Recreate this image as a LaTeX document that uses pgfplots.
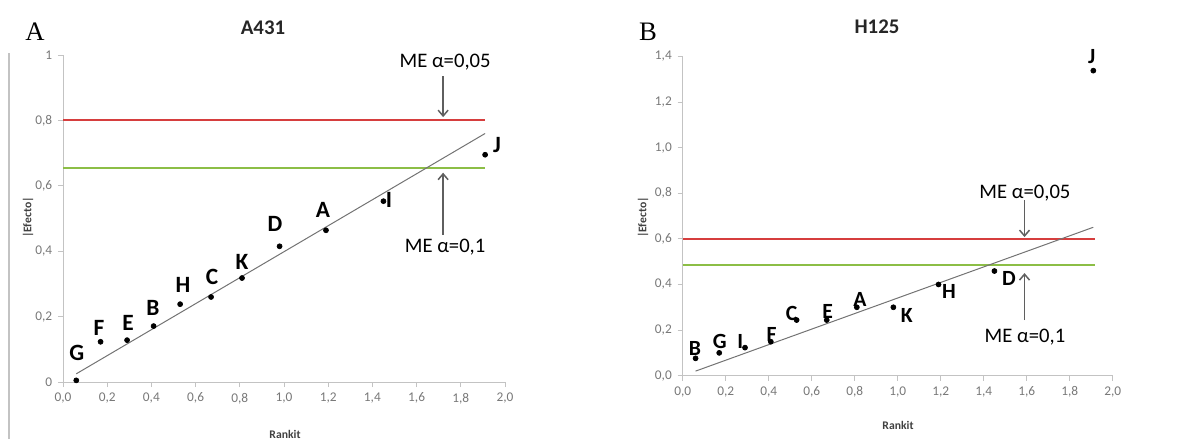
\documentclass[border=0pt]{standalone}
\usepackage{pgfplots}
\pgfplotsset{compat=1.18}
\usepackage{fontspec}
\setmainfont{Carlito}
\newfontfamily\serifA{Liberation Serif}
\usetikzlibrary{arrows.meta}
\definecolor{meRed}{RGB}{214,62,62}
\definecolor{meGreen}{RGB}{140,190,70}
\definecolor{tickgray}{RGB}{120,120,120}
\definecolor{axgray}{RGB}{195,195,195}
\definecolor{arrgray}{RGB}{95,95,95}
\definecolor{fitgray}{RGB}{115,115,115}

\pgfplotstableread{
x y
0.06 0.005
0.17 0.123
0.29 0.128
0.41 0.171
0.53 0.238
0.67 0.260
0.81 0.318
0.98 0.415
1.19 0.464
1.45 0.553
1.91 0.695
}\dataA
\pgfplotstableread{
x y
0.06 0.076
0.17 0.100
0.29 0.123
0.41 0.149
0.53 0.244
0.67 0.244
0.81 0.300
0.98 0.300
1.19 0.400
1.45 0.459
1.91 1.338
}\dataB

\pgfplotsset{
  myaxis/.style={
    scale only axis,
    anchor=origin,
    axis x line=bottom, axis y line=left,
    axis line style={axgray, line width=0.6pt, -},
    tick style={axgray, line width=0.6pt},
    major tick length=3pt,
    tick align=outside,
    xmin=0, xmax=2, xtick={0,0.2,...,2.0},
    xticklabels={{0,0},{0,2},{0,4},{0,6},{0,8},{1,0},{1,2},{1,4},{1,6},{1,8},{2,0}},
    ticklabel style={font=\fontsize{8}{9}\selectfont, text=tickgray},
    clip=false,
  },
}
\tikzset{
  ptlabA/.style={font=\fontsize{14}{16}\selectfont\bfseries, text=black},
  ptlab/.style={font=\fontsize{13}{15}\selectfont\bfseries, text=black},
  melab/.style={font=\fontsize{12.4}{14}\selectfont, text=black},
  mearr/.style={arrgray, line width=0.9pt, -{Straight Barb[length=3.5pt,width=6pt]}},
}

\begin{document}
\begin{tikzpicture}
\useasboundingbox (0,0) rectangle (717.6pt,263.4pt);
% left border line of panel A
\draw[axgray, line width=0.8pt] (5.4pt,0) -- (5.4pt,231.6pt);

% ---------------- Panel A ----------------
\begin{axis}[myaxis, at={(37.8pt,34.2pt)}, width=265.2pt, height=196.2pt,
  ymin=0, ymax=1, ytick={0,0.2,...,1.0},
  yticklabels={0,{0,2},{0,4},{0,6},{0,8},1}]
\addplot[meRed, line width=1.3pt] coordinates {(0,0.80) (1.91,0.80)};
\addplot[meGreen, line width=1.3pt] coordinates {(0,0.655) (1.91,0.655)};
\addplot[fitgray, line width=0.6pt] coordinates {(0.06,0.025) (1.91,0.76)};
\addplot[only marks, mark=*, mark size=1.5pt, black] table {\dataA};
\node[ptlabA] at (axis cs:0.063,0.089) {G};
\node[ptlabA] at (axis cs:0.163,0.165) {F};
\node[ptlabA] at (axis cs:0.294,0.180) {E};
\node[ptlabA] at (axis cs:0.407,0.226) {B};
\node[ptlabA] at (axis cs:0.543,0.297) {H};
\node[ptlabA] at (axis cs:0.674,0.321) {C};
\node[ptlabA] at (axis cs:0.810,0.367) {K};
\node[ptlabA] at (axis cs:0.959,0.483) {D};
\node[ptlabA] at (axis cs:1.176,0.526) {A};
\node[ptlabA] at (axis cs:1.475,0.557) {I};
\node[ptlabA] at (axis cs:1.964,0.725) {J};
\node[melab] at (axis cs:1.729,0.979) {ME α=0,05};
\draw[mearr] (axis cs:1.72,0.935) -- (axis cs:1.72,0.81);
\node[melab] at (axis cs:1.729,0.413) {ME α=0,1};
\draw[mearr] (axis cs:1.72,0.45) -- (axis cs:1.72,0.64);
\end{axis}

% ---------------- Panel B ----------------
\begin{axis}[myaxis, at={(409.6pt,38.0pt)}, width=258pt, height=191.5pt,
  ymin=0, ymax=1.4, ytick={0,0.2,...,1.4},
  yticklabels={{0,0},{0,2},{0,4},{0,6},{0,8},{1,0},{1,2},{1,4}}]
\addplot[meRed, line width=1.3pt] coordinates {(0,0.60) (1.92,0.60)};
\addplot[meGreen, line width=1.3pt] coordinates {(0,0.486) (1.92,0.486)};
\addplot[fitgray, line width=0.6pt] coordinates {(0.06,0.02) (1.91,0.651)};
\addplot[only marks, mark=*, mark size=1.5pt, black] table {\dataB};
\node[ptlab] at (axis cs:0.057,0.121) {B};
\node[ptlab] at (axis cs:0.173,0.149) {G};
\node[ptlab] at (axis cs:0.268,0.152) {I};
\node[ptlab] at (axis cs:0.414,0.179) {F};
\node[ptlab] at (axis cs:0.507,0.275) {C};
\node[ptlab] at (axis cs:0.674,0.281) {E};
\node[ptlab] at (axis cs:0.825,0.336) {A};
\node[ptlab] at (axis cs:1.042,0.266) {K};
\node[ptlab] at (axis cs:1.239,0.368) {H};
\node[ptlab] at (axis cs:1.518,0.428) {D};
\node[ptlab] at (axis cs:1.902,1.399) {J};
\node[melab] at (axis cs:1.592,0.800) {ME α=0,05};
\draw[mearr] (axis cs:1.59,0.77) -- (axis cs:1.59,0.608);
\node[melab] at (axis cs:1.592,0.171) {ME α=0,1};
\draw[mearr] (axis cs:1.59,0.244) -- (axis cs:1.59,0.45);
\end{axis}

% titles and labels
\node[font=\fontsize{12.5}{14}\selectfont\bfseries, text=black!85] at (157.8pt,246.6pt) {A431};
\node[font=\fontsize{12.5}{14}\selectfont\bfseries, text=black!85] at (526.2pt,247.2pt) {H125};
\node[font=\serifA\fontsize{16}{18}\selectfont] at (21pt,244.2pt) {A};
\node[font=\serifA\fontsize{16}{18}\selectfont] at (388.8pt,244.2pt) {B};
\node[font=\fontsize{7}{8}\selectfont\bfseries, text=black!75] at (171pt,3pt) {Rankit};
\node[font=\fontsize{7}{8}\selectfont\bfseries, text=black!75] at (538.8pt,8.4pt) {Rankit};
\node[font=\fontsize{7}{8}\selectfont\bfseries, text=black!75, rotate=90] at (16.8pt,132.9pt) {|Efecto|};
\node[font=\fontsize{7}{8}\selectfont\bfseries, text=black!75, rotate=90] at (385.8pt,132.9pt) {|Efecto|};
\end{tikzpicture}
\end{document}
